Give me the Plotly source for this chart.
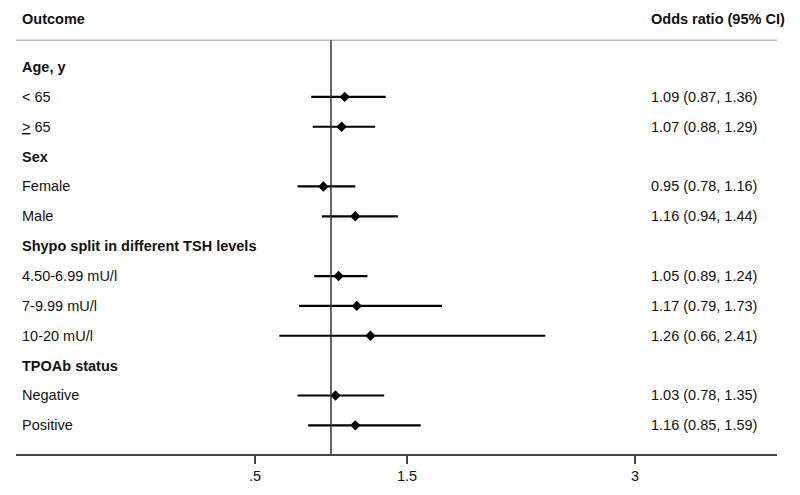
import plotly.graph_objects as go

# ---- data ----
labels = ["Age, y", "< 65", "<u>&gt;</u> 65", "Sex", "Female", "Male",
          "Shypo split in different TSH levels", "4.50-6.99 mU/l", "7-9.99 mU/l",
          "10-20 mU/l", "TPOAb status", "Negative", "Positive"]
is_group = [True, False, False, True, False, False, True, False, False, False, True, False, False]
odds = [None, 1.09, 1.07, None, 0.95, 1.16, None, 1.05, 1.17, 1.26, None, 1.03, 1.16]
ci_low = [None, 0.87, 0.88, None, 0.78, 0.94, None, 0.89, 0.79, 0.66, None, 0.78, 0.85]
ci_high = [None, 1.36, 1.29, None, 1.16, 1.44, None, 1.24, 1.73, 2.41, None, 1.35, 1.59]
tick_vals = [0.5, 1.5, 3]
tick_text = [".5", "1.5", "3"]
header_left = "Outcome"
header_right = "Odds ratio (95% CI)"

FONT = "Liberation Sans, Arial, sans-serif"
FS = 14.5
TXT = "#111"

rows = list(range(1, len(labels) + 1))
px, py, pl, ph = [], [], [], []
for r, o, lo, hi in zip(rows, odds, ci_low, ci_high):
    if o is not None:
        px.append(o); py.append(r); pl.append(o - lo); ph.append(hi - o)

fig = go.Figure()
fig.add_trace(go.Scatter(
    x=px, y=py, mode="markers",
    marker=dict(symbol="diamond", size=8, color="black"),
    error_x=dict(type="data", symmetric=False, array=ph, arrayminus=pl,
                 width=0, thickness=2.2, color="black"),
    showlegend=False, hoverinfo="skip"))

header_row = -0.62
header_line = 0.1
y_bottom = 13.96
y_top = -0.977

# page offset (body margin 8px) compensated via figure size
L, R, T, B = 8, 23, 0, 41
W, H = 792, 487
pw = W - L - R
right_x = (649 - 16) / pw
left_x = 4 / pw

def ann(x, y, text):
    return dict(x=x, xref="paper", y=y, yref="y", text=text,
                xanchor="left", yanchor="middle", showarrow=False,
                font=dict(family=FONT, size=FS, color=TXT))

annotations = [ann(left_x, header_row, "<b>%s</b>" % header_left),
               ann(right_x, header_row, "<b>%s</b>" % header_right)]
for r, lab, g, o, lo, hi in zip(rows, labels, is_group, odds, ci_low, ci_high):
    annotations.append(ann(left_x, r, ("<b>%s</b>" % lab) if g else lab))
    if o is not None:
        annotations.append(ann(right_x, r, "%.2f (%.2f, %.2f)" % (o, lo, hi)))

fig.update_layout(
    width=W, height=H,
    margin=dict(l=L, r=R, t=T, b=B),
    paper_bgcolor="white", plot_bgcolor="white",
    annotations=annotations,
    shapes=[
        dict(type="line", xref="paper", x0=0, x1=1, yref="y", y0=header_line, y1=header_line,
             line=dict(color="#bbbbbb", width=1.5)),
        dict(type="line", xref="x", x0=1, x1=1, yref="y", y0=header_line, y1=y_bottom,
             line=dict(color="#333333", width=1.5)),
    ],
    xaxis=dict(range=[-1.072, 3.934], showgrid=False, zeroline=False,
               showline=True, linecolor="#444444", linewidth=2,
               ticks="outside", ticklen=8, tickwidth=1.5, tickcolor="#444444",
               tickvals=tick_vals, ticktext=tick_text,
               tickfont=dict(family=FONT, size=FS, color=TXT)),
    yaxis=dict(range=[y_bottom, y_top], visible=False, showgrid=False, zeroline=False),
)

fig.write_html("out.html")
